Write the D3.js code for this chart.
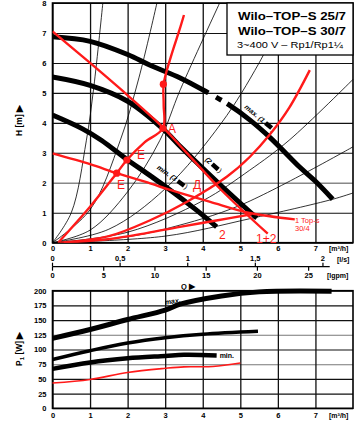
<!DOCTYPE html>
<html>
<head>
<meta charset="utf-8">
<script src="https://cdn.jsdelivr.net/npm/d3@7"></script>
<style>
body { margin: 0; background: #fff; }
svg { font-family: "Liberation Sans", Arial, sans-serif; }
.tick text { font-weight: bold; font-size: 7.5px; }
</style>
</head>
<body>
<svg width="361" height="423"></svg>
<script>
// flow ticks, head ticks, power ticks
var qTicks = [0, 1, 2, 3, 4, 5, 6, 7];
var hTicks = [0, 1, 2, 3, 4, 5, 6, 7, 8];
var pTicks = [0, 25, 50, 75, 100, 125, 150, 175, 200];
var lsTicks = [0, 0.5, 1, 1.5, 2];
var lsLabels = ["0", "0,5", "1", "1,5", "2"];
var lgpmTicks = [0, 5, 10, 15, 20, 25];

// pump curves H(Q), black: max (1, (2, min (3
var hMax = [[0, 6.87], [1, 6.72], [2, 6.28], [2.6, 5.92], [3.4, 5.5], [4.15, 5.0], [4.7, 4.6], [5.25, 4.1], [5.8, 3.5], [6.6, 2.5], [7.0, 2.05], [7.46, 1.45]];
var hMid = [[0, 5.53], [1, 5.25], [2, 4.72], [2.94, 3.8], [3.45, 3.15], [4.45, 1.95], [5.44, 0.82]];
var hMin = [[0, 4.26], [0.8, 3.8], [1.3, 3.42], [2, 2.76], [2.6, 2.24], [3.13, 1.76], [3.8, 1.12], [4.37, 0.53]];

// thin system curves
var systemCurves = [
    [[0, 0], [0.5, 1.0], [0.9, 3.4], [1.1, 5.2], [1.34, 8]],
    [[0, 0], [1, 1.1], [1.8, 3.4], [2.3, 5.5], [2.78, 8]],
    [[0, 0], [1, 0.42], [2, 1.7], [2.86, 3.42], [3.4, 5.1], [4.45, 8]],
    [[0, 0], [1.5, 0.45], [3, 1.8], [4.5, 4.0], [5.5, 6.0], [6.3, 8]],
    [[0, 0], [2, 0.35], [4, 1.4], [5.25, 2.42], [6.3, 3.42], [8, 5.45]],
    [[0, 0], [2, 0.2], [3.13, 0.5], [5, 1.25], [8, 3.2]],
    [[0, 0], [3, 0.22], [5.25, 0.8], [7.46, 1.45], [8, 1.66]]
];

// red marked curves
var redCurve12 = [[0, 7.05], [1, 6.0], [2, 4.92], [2.94, 3.85], [3.5, 3.1], [4.5, 1.75], [5.73, 0.3]];
var redTop304 = [[0, 2.98], [1, 2.62], [1.71, 2.32], [2.6, 1.98], [3.13, 1.76], [4.2, 1.36], [5.25, 0.99], [6.45, 0.78]];
var redSys1 = [[0.15, 0], [1, 1.2], [1.71, 2.32], [1.98, 2.76], [2.45, 3.35], [2.94, 3.82], [2.96, 4.6], [2.96, 5.29], [3.15, 6.2], [3.38, 7.1], [3.5, 7.6]];
var redSys2 = [[0.2, 0], [1.5, 0.22], [2.6, 0.75], [3.57, 1.36], [4.64, 2.2], [5.25, 2.86], [5.78, 3.6], [6.3, 4.5], [6.85, 5.76]];
var redSys3 = [[0.3, 0], [1.5, 0.12], [2.5, 0.32], [3.39, 0.53], [4.4, 0.75], [5.3, 0.95]];
var redPoints = [[2.95, 5.29], [2.94, 3.82], [1.98, 2.76], [1.71, 2.32]];

// power curves P1(Q)
var pMax = [[0, 119], [1, 134], [2, 151], [3, 167], [3.4, 177], [4.5, 191], [5.5, 198], [7.43, 199]];
var pMid = [[0, 83], [1, 98], [2, 111], [3, 120], [4, 126], [5.47, 131]];
var pMin = [[0, 67], [1, 78], [2, 85], [3, 89], [3.5, 91], [4.37, 90]];
var pRed = [[0, 43], [1, 49], [2, 61], [3, 68], [3.5, 70.5], [4.27, 71], [5.0, 77]];

var svg = d3.select("svg");

var xScale = d3.scaleLinear().domain([0, 8]).range([52.5, 353]);
var hScale = d3.scaleLinear().domain([0, 8]).range([242.7, 3]);
var pScale = d3.scaleLinear().domain([0, 200]).range([408.3, 290.7]);
var lsScale = d3.scaleLinear().domain([0, 8 / 3.6]).range([52.5, 353]);
var lgpmScale = d3.scaleLinear().domain([0, 8 / 0.272765]).range([52.5, 353]);

var hLine = d3.line().x((d) => xScale(d[0])).y((d) => hScale(d[1])).curve(d3.curveCatmullRom.alpha(0.5));
var pLine = d3.line().x((d) => xScale(d[0])).y((d) => pScale(d[1])).curve(d3.curveCatmullRom.alpha(0.5));

var plotW = xScale(8) - xScale(0);

// ---- top chart grid
var gTop = svg.append("g");
gTop.append("g")
    .attr("transform", "translate(52.5,0)")
    .call(d3.axisLeft(hScale).tickValues(hTicks).tickSize(-plotW).tickPadding(6).tickFormat(d3.format("d")))
    .call((g) => g.select(".domain").remove())
    .call((g) => g.selectAll(".tick line").attr("stroke", (d) => d === 2 ? "#888" : "#111").attr("stroke-width", (d) => d === 2 ? 1.6 : 1.1));

gTop.append("g")
    .attr("transform", "translate(0,242.7)")
    .call(d3.axisBottom(xScale).tickValues(qTicks).tickSize(-(242.7 - 3)).tickPadding(3).tickFormat(d3.format("d")))
    .call((g) => g.select(".domain").remove())
    .call((g) => g.selectAll(".tick line").attr("stroke", "#111").attr("stroke-width", 1.3));

gTop.append("rect")
    .attr("x", 52.5).attr("y", 3).attr("width", plotW).attr("height", 242.7 - 3)
    .attr("fill", "none").attr("stroke", "#000").attr("stroke-width", 1.6);

// thin system curves
gTop.selectAll(".sys").data(systemCurves).enter().append("path")
    .attr("class", "sys")
    .attr("d", hLine)
    .attr("fill", "none")
    .attr("stroke", "#000")
    .attr("stroke-width", 0.8);

// title box
var box = svg.append("g");
box.append("rect")
    .attr("x", 227).attr("y", 3).attr("width", 126).attr("height", 52)
    .attr("fill", "#fff").attr("stroke", "#000").attr("stroke-width", 1.3);
box.append("text").attr("x", 238).attr("y", 20)
    .attr("font-size", 11.5).attr("font-weight", "bold")
    .attr("textLength", 108).attr("lengthAdjust", "spacingAndGlyphs")
    .text("Wilo–TOP–S 25/7");
box.append("text").attr("x", 238).attr("y", 35)
    .attr("font-size", 11.5).attr("font-weight", "bold")
    .attr("textLength", 108).attr("lengthAdjust", "spacingAndGlyphs")
    .text("Wilo–TOP–S 30/7");
box.append("text").attr("x", 237).attr("y", 48)
    .attr("font-size", 8.5)
    .attr("textLength", 106).attr("lengthAdjust", "spacingAndGlyphs")
    .text("3~400 V – Rp1/Rp1¼");

// pump curves
var clipTop = svg.append("clipPath").attr("id", "clipTop");
clipTop.append("rect").attr("x", 52.5).attr("y", 3).attr("width", plotW).attr("height", 242.7 - 3);

var pumps = svg.append("g").attr("clip-path", "url(#clipTop)");

var maxPath = pumps.append("path")
    .attr("d", hLine(hMax))
    .attr("fill", "none").attr("stroke", "#000").attr("stroke-width", 5);

// gap-dash-gap in the max curve
var lengthAtX = function (path, px) {
    var lo = 0, hi = path.getTotalLength();
    for (var i = 0; i < 30; i++) {
        var mid = (lo + hi) / 2;
        if (path.getPointAtLength(mid).x < px) lo = mid; else hi = mid;
    }
    return lo;
};
var mp = maxPath.node();
var total = mp.getTotalLength();
var a = lengthAtX(mp, xScale(4.15)), b = lengthAtX(mp, xScale(4.35)),
    c = lengthAtX(mp, xScale(4.5)), e = lengthAtX(mp, xScale(4.65));
maxPath.attr("stroke-dasharray", [a, b - a, c - b, e - c, total].join(","));

pumps.append("path")
    .attr("d", hLine(hMid))
    .attr("fill", "none").attr("stroke", "#000").attr("stroke-width", 5);
pumps.append("path")
    .attr("d", hLine(hMin))
    .attr("fill", "none").attr("stroke", "#000").attr("stroke-width", 5);

// curve labels along the pump curves
var curveLabel = function (x, y, angle, txt) {
    var g = svg.append("g").attr("transform", "translate(" + x + "," + y + ") rotate(" + angle + ")");
    var t = g.append("text").attr("font-size", 7).attr("font-style", "italic").attr("font-weight", "bold").attr("fill", "#000").text(txt);
    var w = t.node().getComputedTextLength();
    g.append("rect").attr("x", w + 2).attr("y", -4.5).attr("width", 8).attr("height", 4.5).attr("fill", "#000");
    g.append("text").attr("x", w + 11).attr("font-size", 7).attr("fill", "#000").text(")");
};
curveLabel(xScale(5.1), hScale(4.5), 40, "max. (1");
curveLabel(xScale(4.05), hScale(2.75), 42, "(2");
curveLabel(xScale(2.77), hScale(2.48), 36, "min. (3");

// red curves
var reds = svg.append("g").attr("clip-path", "url(#clipTop)");
[redCurve12, redTop304, redSys1, redSys2, redSys3].forEach(function (c) {
    reds.append("path")
        .attr("d", hLine(c))
        .attr("fill", "none").attr("stroke", "#ff1a1a").attr("stroke-width", 2.4);
});
reds.selectAll(".pt").data(redPoints).enter().append("circle")
    .attr("class", "pt")
    .attr("cx", (d) => xScale(d[0]))
    .attr("cy", (d) => hScale(d[1]))
    .attr("r", 3.6)
    .attr("fill", "#ff1a1a");

var redText = function (x, y, size, txt) {
    svg.append("text").attr("x", x).attr("y", y)
        .attr("font-size", size).attr("fill", "#ff1a1a").text(txt);
};
redText(168, 133, 12, "A");
redText(137, 159, 12, "E");
redText(117, 189, 12, "E");
redText(193, 189, 12, "Д");
redText(219, 239, 12, "2");
redText(256, 243, 12, "1+2");
redText(295, 223, 7.5, "1 Top-s");
redText(295, 231, 7.5, "30/4");

// top axis unit and title
svg.append("text").attr("x", 329).attr("y", 250.5)
    .attr("font-size", 7).attr("font-weight", "bold").text("[m³/h]");
svg.append("text")
    .attr("transform", "translate(22,136) rotate(-90)")
    .attr("font-size", 8.5).attr("font-weight", "bold").text("H [m] ▶");

// secondary flow axes: l/s above, lgpm below
var axY = 266.7;
var sec = svg.append("g");
sec.append("line").attr("x1", 52.5).attr("x2", lsScale(2.05)).attr("y1", axY).attr("y2", axY)
    .attr("stroke", "#000").attr("stroke-width", 1.3);
sec.selectAll(".lst").data(lsTicks).enter().append("line")
    .attr("x1", (d) => lsScale(d)).attr("x2", (d) => lsScale(d))
    .attr("y1", axY - 4).attr("y2", axY)
    .attr("stroke", "#000").attr("stroke-width", 1.2);
sec.selectAll(".lsl").data(lsTicks).enter().append("text")
    .attr("x", (d) => lsScale(d)).attr("y", 261)
    .attr("text-anchor", "middle").attr("font-size", 7.5).attr("font-weight", "bold")
    .text((d, i) => lsLabels[i]);
sec.selectAll(".gpt").data(lgpmTicks).enter().append("line")
    .attr("x1", (d) => lgpmScale(d)).attr("x2", (d) => lgpmScale(d))
    .attr("y1", axY).attr("y2", axY + 4)
    .attr("stroke", "#000").attr("stroke-width", 1.2);
sec.selectAll(".gpl").data(lgpmTicks).enter().append("text")
    .attr("x", (d) => lgpmScale(d)).attr("y", 278)
    .attr("text-anchor", "middle").attr("font-size", 7.5).attr("font-weight", "bold")
    .text((d) => d);
sec.append("text").attr("x", 337).attr("y", 262).attr("font-size", 7).attr("font-weight", "bold").text("[l/s]");
sec.append("text").attr("x", 327).attr("y", 278).attr("font-size", 7).attr("font-weight", "bold").text("[lgpm]");
sec.append("text").attr("x", 181).attr("y", 288.5).attr("font-size", 7.5).attr("font-weight", "bold").text("Q ▶");

// ---- bottom chart
var gBot = svg.append("g");
gBot.append("g")
    .attr("transform", "translate(52.5,0)")
    .call(d3.axisLeft(pScale).tickValues(pTicks).tickSize(-plotW).tickPadding(6))
    .call((g) => g.select(".domain").remove())
    .call((g) => g.selectAll(".tick line").attr("stroke", (d) => (d === 75 || d === 125) ? "#777" : "#111").attr("stroke-width", 1.1));

gBot.append("g")
    .attr("transform", "translate(0,408.3)")
    .call(d3.axisBottom(xScale).tickValues(qTicks).tickSize(-(408.3 - 290.7)).tickPadding(4).tickFormat(d3.format("d")))
    .call((g) => g.select(".domain").remove())
    .call((g) => g.selectAll(".tick line").attr("stroke", "#111").attr("stroke-width", 1.3));

gBot.append("rect")
    .attr("x", 52.5).attr("y", 290.7).attr("width", plotW).attr("height", 408.3 - 290.7)
    .attr("fill", "none").attr("stroke", "#000").attr("stroke-width", 1.6);

gBot.append("path").attr("d", pLine(pMax)).attr("fill", "none").attr("stroke", "#000").attr("stroke-width", 5);
gBot.append("path").attr("d", pLine(pMid)).attr("fill", "none").attr("stroke", "#000").attr("stroke-width", 3.5);
gBot.append("path").attr("d", pLine(pMin)).attr("fill", "none").attr("stroke", "#000").attr("stroke-width", 4.5);
gBot.append("path").attr("d", pLine(pRed)).attr("fill", "none").attr("stroke", "#ff1a1a").attr("stroke-width", 1.6);

gBot.append("text")
    .attr("transform", "translate(" + xScale(3.0) + "," + pScale(176) + ") rotate(-9)")
    .attr("font-size", 7).attr("font-style", "italic").attr("font-weight", "bold").attr("fill", "#000").text("max.");
gBot.append("text").attr("x", xScale(4.45)).attr("y", pScale(86))
    .attr("font-size", 7).attr("font-weight", "bold").attr("fill", "#000").text("min.");

svg.append("text").attr("x", 329).attr("y", 418)
    .attr("font-size", 7).attr("font-weight", "bold").text("[m³/h]");
svg.append("text")
    .attr("transform", "translate(22,366) rotate(-90)")
    .attr("font-size", 8.5).attr("font-weight", "bold")
    .html("P<tspan font-size='6' dy='1.5'>1</tspan><tspan dy='-1.5'> [W] ▶</tspan>");
</script>
</body>
</html>
